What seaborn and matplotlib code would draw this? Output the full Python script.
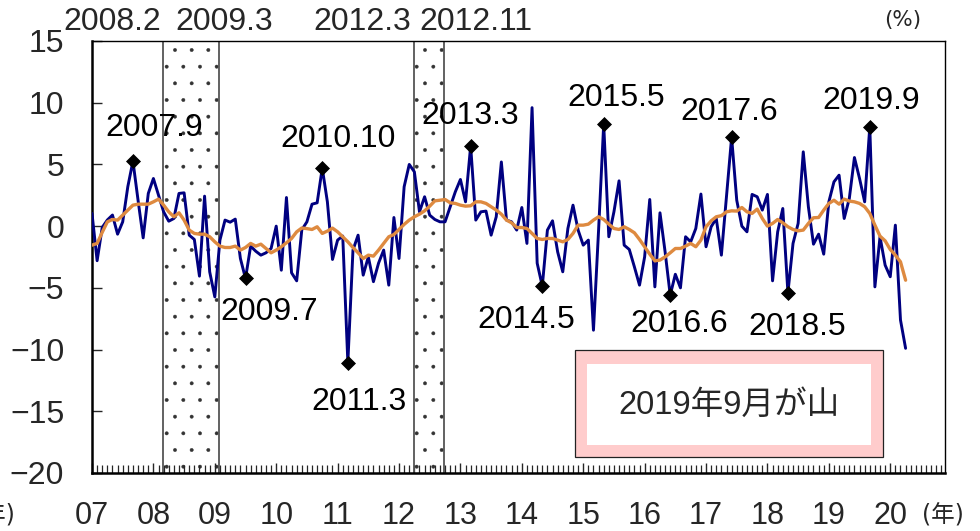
import matplotlib
matplotlib.use("Agg")
import numpy as np
import pandas as pd
import seaborn as sns
import matplotlib.pyplot as plt
from matplotlib import font_manager
from matplotlib.ticker import MultipleLocator, FixedLocator, FixedFormatter
from matplotlib.patches import Rectangle

# ---------------- data (monthly, Jan 2007 = index 0) ----------------
monthly_change = [
    1.03, -2.8, -0.1, 0.5, 0.9, -0.65, 0.35, 3.2, 5.27, 2.1, -0.95, 2.65,
    3.86, 2.5, 1.16, 0.4, 0.62, 2.65, 2.7, -0.73, -1.08, -4.05, 2.43, -3.7,
    -5.73, -1.13, 0.49, 0.32, 0.57, -2.62, -4.24, -1.62, -2.03, -2.35, -2.16, -1.81,
    0.0, -3.57, 2.32, -3.78, -4.43, -0.3, 0.35, 1.78, 1.89, 4.7, 1.97, -2.7,
    -1.13, -0.8, -11.05, -1.94, -0.73, -3.97, -2.49, -4.5, -3.0, -1.94, -4.78, 0.7,
    -2.62, 3.19, 5.0, 4.4, 1.16, 2.38, 0.89, 0.54, 0.35, 0.35, 1.57, 2.78,
    3.78, 1.97, 6.5, 0.49, 1.16, 1.22, -0.73, 0.76, 5.2, 0.49, 0.35, -0.32,
    1.51, -1.4, 9.6, -3.0, -4.86, -0.32, 0.43, -2.08, -3.7, -0.19, 1.7, -0.32,
    -1.54, -1.13, -8.43, -0.32, 8.27, -0.86, 1.16, 3.67, -1.54, -1.89, -3.3, -4.78,
    -2.49, 2.16, -4.92, 1.08, -2.08, -5.59, -3.9, -5.0, -0.86, -1.27, -0.19, 2.6,
    -1.67, -0.05, 0.62, -2.35, 2.4, 7.2, 2.1, 0.0, -0.46, 2.57, 2.38, 1.3,
    2.57, -4.43, -0.46, 1.43, -5.4, -1.4, 0.22, 6.02, 1.57, -1.46, -0.65, -2.27,
    1.97, 3.59, 4.13, 0.62, 2.24, 5.56, 3.86, 1.97, 8.05, -4.92, -0.86, -3.16,
    -4.1, 0.08, -7.6, -9.9,
]
moving_avg = [
    -1.54, -1.4, -0.5, 0.35, 0.54, 0.49, 0.89, 1.3, 1.7, 1.78, 1.78, 1.78,
    1.97, 2.19, 1.7, 1.16, 0.76, 1.08, 0.49, -0.32, -0.59, -0.65, -0.65, -0.86,
    -1.27, -1.62, -1.73, -1.73, -1.62, -1.94, -1.73, -1.4, -1.62, -1.46, -1.81, -2.16,
    -1.94, -1.67, -1.35, -1.0, -0.46, -0.15, -0.2, -0.27, -0.05, -0.59, -0.4, -0.16,
    -0.46, -0.86, -1.27, -1.73, -2.16, -2.62, -2.35, -2.43, -1.94, -1.4, -0.86, -0.68,
    -0.27, 0.14, 0.49, 0.76, 0.97, 1.24, 1.62, 2.05, 2.1, 2.16, 1.89, 1.84,
    1.7, 1.62, 1.65, 1.97, 1.97, 1.84, 1.57, 1.3, 0.97, 0.49, 0.27, -0.11,
    -0.11, -0.19, -0.59, -1.0, -1.08, -1.0, -1.0, -1.13, -1.27, -1.08, -0.59, 0.08,
    0.08, 0.16, 0.49, 0.76, 0.54, 0.16, -0.19, -0.27, -0.05, -0.27, -0.54, -1.08,
    -1.67, -2.27, -2.81, -2.75, -2.49, -2.16, -1.81, -1.81, -1.62, -1.4, -1.67, -1.13,
    -0.05, 0.43, 0.76, 0.85, 1.16, 1.24, 1.22, 1.51, 1.16, 1.03, 1.38, 0.62,
    0.0, 0.22, 0.54, 0.27, -0.05, -0.27, -0.38, -0.32, 0.22, 0.68, 0.7, 1.3,
    1.84, 2.1, 1.78, 2.19, 2.03, 1.97, 1.84, 1.57, 1.03, 0.08, -0.81, -1.19,
    -1.89, -2.35, -2.89, -4.38,
]
year_labels = ["07", "08", "09", "10", "11", "12", "13", "14", "15", "16", "17", "18", "19", "20"]
y_ticks = [-20, -15, -10, -5, 0, 5, 10, 15]
turning_idx = [8, 30, 45, 50, 74, 88, 100, 113, 125, 136, 152]
turning_labels = ["2007.9", "2009.7", "2010.10", "2011.3", "2013.3", "2014.5",
                  "2015.5", "2016.6", "2017.6", "2018.5", "2019.9"]
band_start = [13.9, 62.9]
band_end = [24.8, 68.8]
band_labels_start = ["2008.2", "2012.3"]
band_labels_end = ["2009.3", "2012.11"]
note_text = "2019年9月が山"

# ---------------- style ----------------
sns.set_theme(style="white")
names = {f.name for f in font_manager.fontManager.ttflist}
latin = "Liberation Sans Narrow" if "Liberation Sans Narrow" in names else "Liberation Sans"
plt.rcParams["font.family"] = [latin, "Noto Sans CJK JP", "DejaVu Sans"]
plt.rcParams["axes.unicode_minus"] = True
plt.rcParams["hatch.linewidth"] = 0.3
plt.rcParams["hatch.color"] = "#333333"

FS = 23

fig = plt.figure(figsize=(9.8, 5.31), dpi=100)
ax = fig.add_axes([92 / 980, 1 - 473 / 531, (945 - 92) / 980, (473 - 41) / 531])

months = np.arange(len(monthly_change))
df = pd.DataFrame({"m": months, "chg": monthly_change, "ma": moving_avg})

# recession bands
for s, e in zip(band_start, band_end):
    ax.axvspan(s, e, facecolor="white", edgecolor="#333333", hatch=".", linewidth=0, zorder=0)
    ax.axvline(s, color="#555555", lw=1.3, zorder=1)
    ax.axvline(e, color="#555555", lw=1.3, zorder=1)

sns.lineplot(data=df, x="m", y="chg", ax=ax, color="#000080", lw=2.1, zorder=3)
sns.lineplot(data=df, x="m", y="ma", ax=ax, color="#DE8A40", lw=2.4, zorder=4)

tp = pd.DataFrame({"m": turning_idx, "v": [monthly_change[i] for i in turning_idx]})
sns.scatterplot(data=tp, x="m", y="v", ax=ax, marker="D", s=50, color="black",
                edgecolor="black", zorder=5)

# turning point labels
label_pos = {
    "2007.9": (12.25, 7.98), "2009.7": (34.7, -6.94), "2010.10": (48.1, 7.1),
    "2011.3": (52.2, -14.24), "2013.3": (74.0, 8.93), "2014.5": (84.8, -7.62),
    "2015.5": (102.4, 10.41), "2016.6": (114.8, -7.89), "2017.6": (124.5, 9.26),
    "2018.5": (137.8, -8.18), "2019.9": (152.3, 10.15),
}
for lab in turning_labels:
    x, y = label_pos[lab]
    ax.text(x, y, lab, ha="center", va="center", fontsize=FS, color="black", zorder=6)

band_label_x = {"2008.2": 3.9, "2009.3": 25.9, "2012.3": 52.9, "2012.11": 75.0}
for lab in band_labels_start + band_labels_end:
    ax.text(band_label_x[lab], 16.56, lab, ha="center", va="center", fontsize=FS,
            clip_on=False)

# axes
ax.set_xlim(0, 166.7)
ax.set_ylim(-20, 15)
ax.set_xlabel("")
ax.set_ylabel("")
ax.xaxis.set_major_locator(FixedLocator([12 * k for k in range(len(year_labels))]))
ax.xaxis.set_major_formatter(FixedFormatter(year_labels))
ax.xaxis.set_minor_locator(MultipleLocator(1))
ax.set_yticks(y_ticks)
ax.set_yticklabels([f"{t}".replace("-", "\u2212") for t in y_ticks])
ax.tick_params(axis="x", which="major", direction="in", length=7.5, width=1.0,
               pad=20, labelsize=22, bottom=True, top=False)
ax.tick_params(axis="x", which="minor", direction="in", length=5.5, width=0.9,
               bottom=True, top=False)
ax.tick_params(axis="y", which="major", direction="in", length=7.5, width=1.0,
               pad=20, labelsize=FS, left=True, right=False)
for side in ["left", "bottom"]:
    ax.spines[side].set_linewidth(1.8)
    ax.spines[side].set_color("black")
for side in ["top", "right"]:
    ax.spines[side].set_linewidth(1.0)
    ax.spines[side].set_color("black")

# note box
ax.add_patch(Rectangle((0.566, 0.037), 0.361, 0.248, transform=ax.transAxes,
                       facecolor="#FFCCCC", edgecolor="#222222", lw=0.9, zorder=7))
ax.add_patch(Rectangle((0.580, 0.065), 0.333, 0.187, transform=ax.transAxes,
                       facecolor="white", edgecolor="none", zorder=8))
ax.text(0.747, 0.157, note_text, transform=ax.transAxes, ha="center", va="center",
        fontsize=23.5, zorder=9)

# unit labels
unit_font = ["DejaVu Sans", "Noto Sans CJK JP"]
fig.text(903 / 980, 1 - 20 / 531, "(%)", ha="center", va="center", fontsize=15.5,
         family=unit_font)
fig.text(943 / 980, 1 - 515 / 531, "(年)", ha="center", va="center", fontsize=17,
         family=unit_font)
fig.text(15 / 980, 1 - 515 / 531, "(年)", ha="right", va="center", fontsize=17,
         family=unit_font)

fig.savefig("out.png", dpi=100)
